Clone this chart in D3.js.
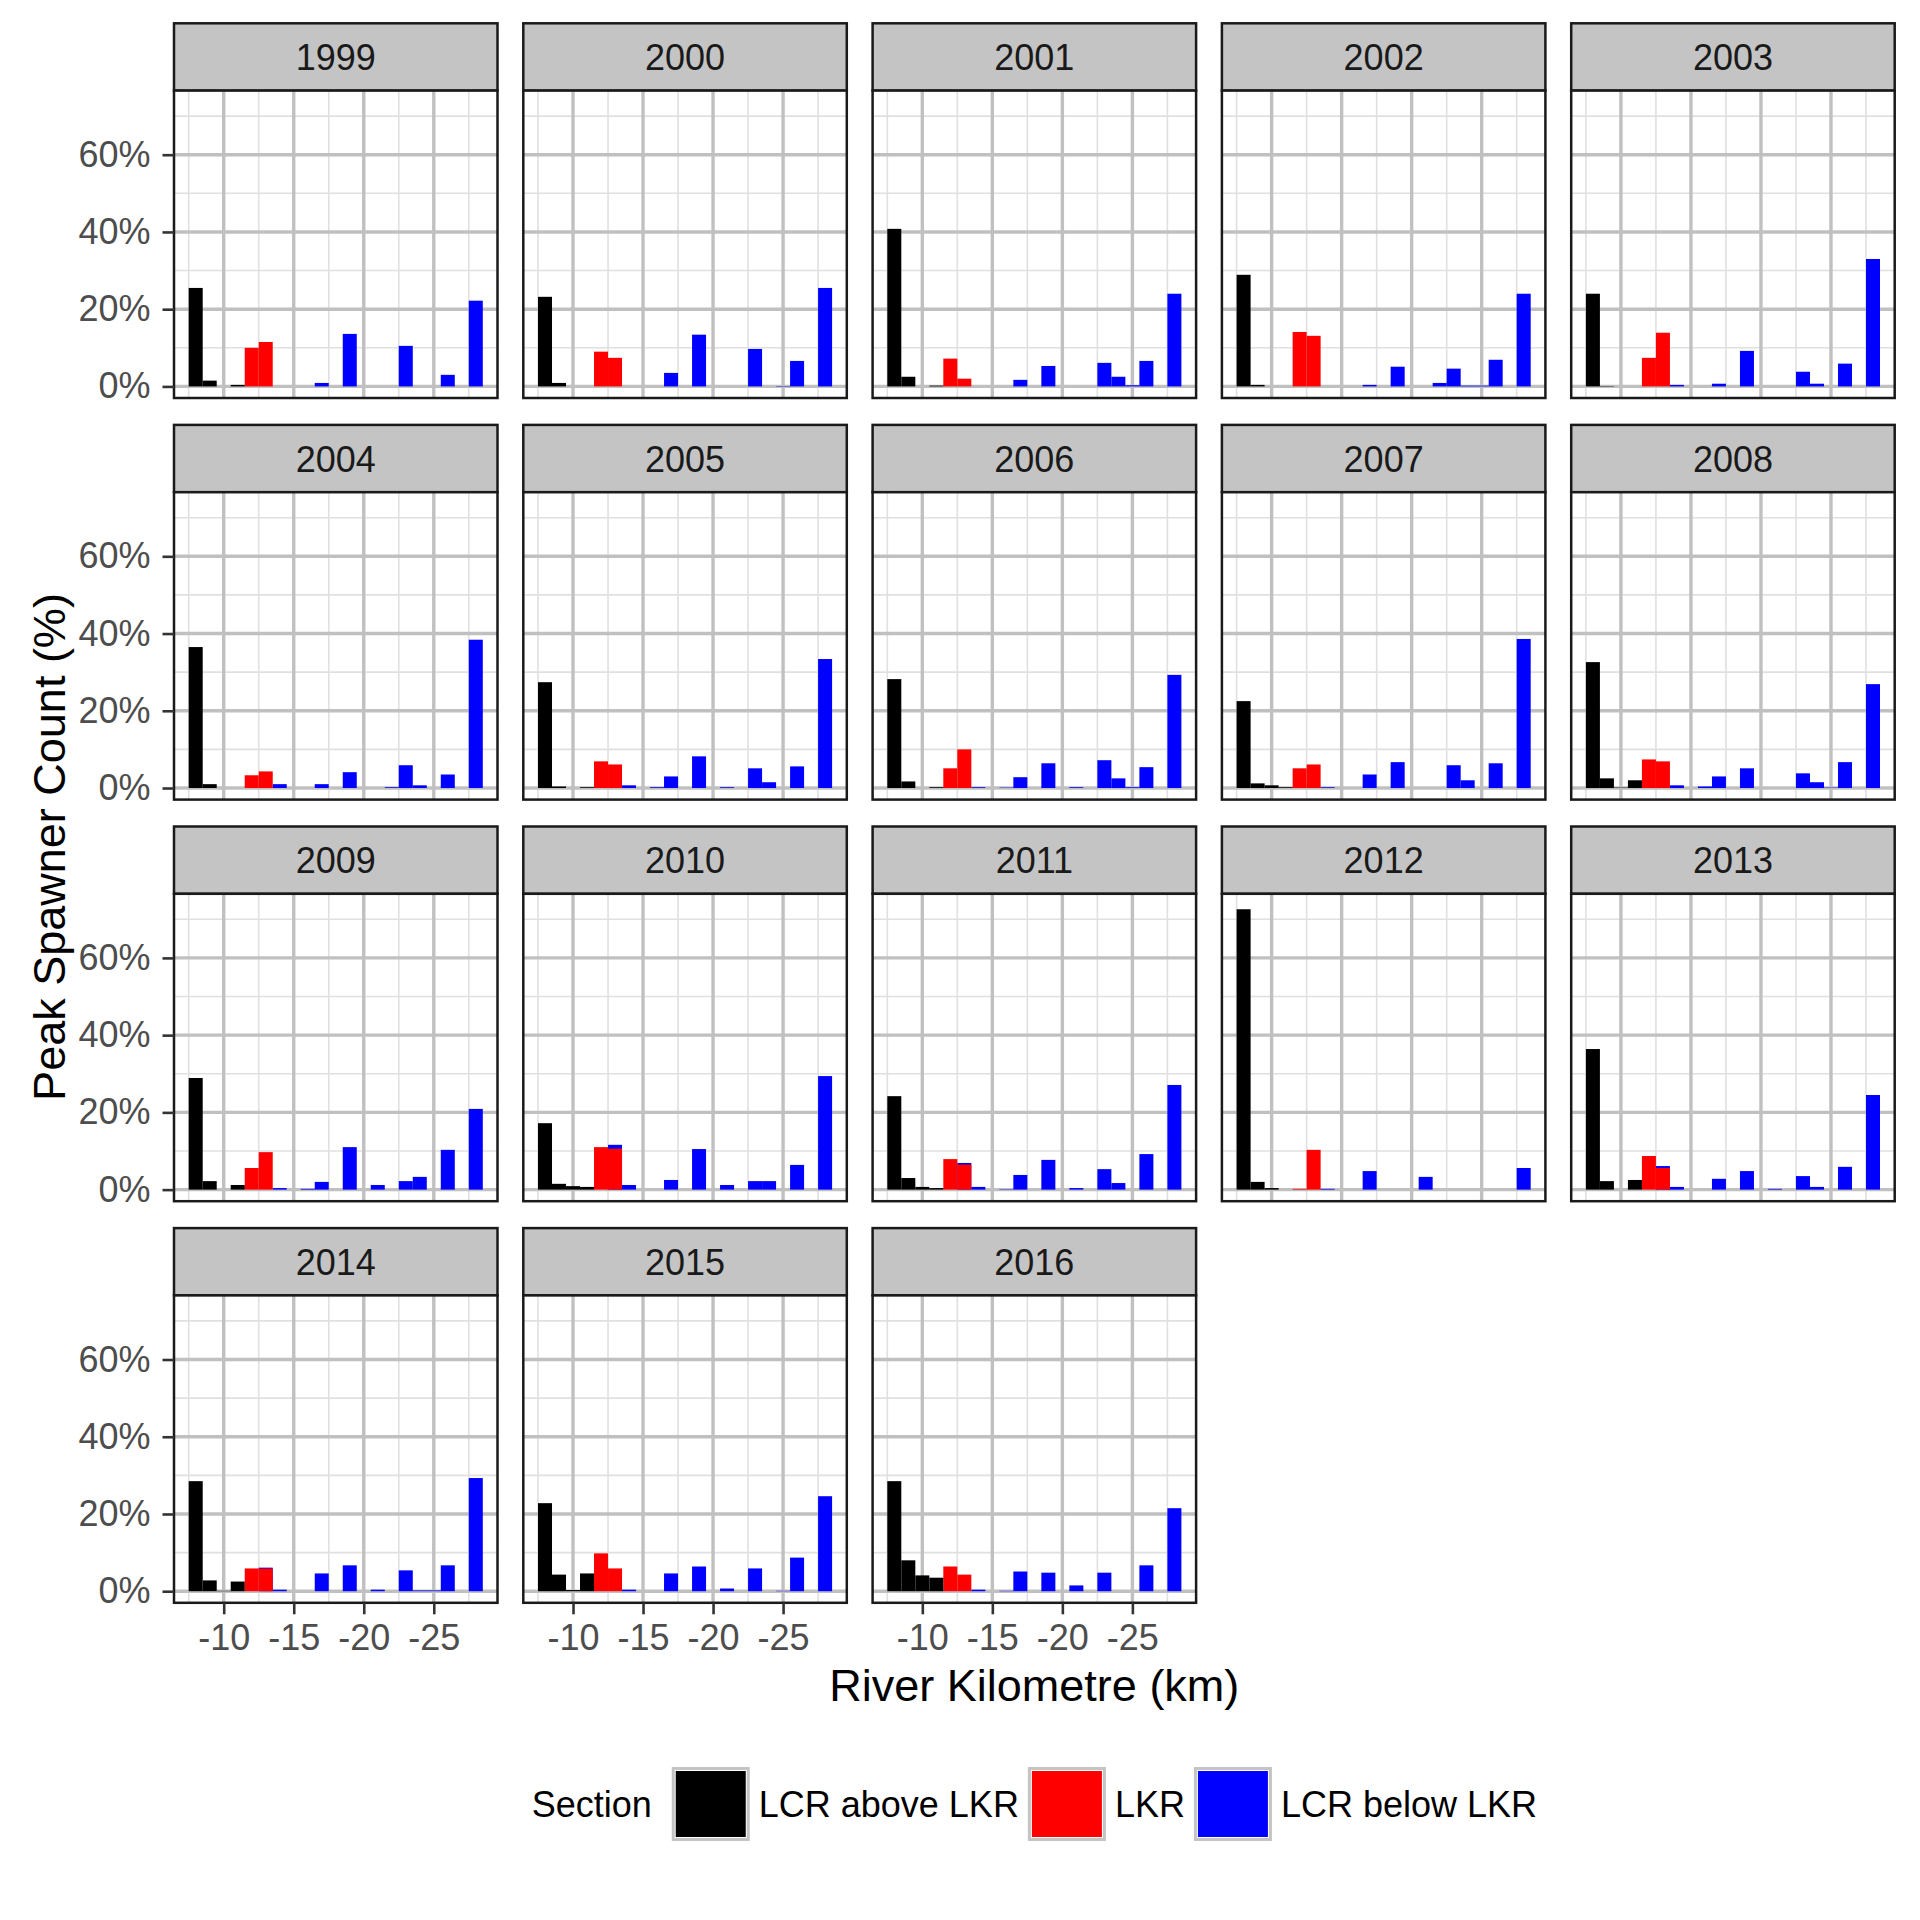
<!DOCTYPE html>
<html>
<head>
<meta charset="utf-8">
<script src="https://cdn.jsdelivr.net/npm/d3@7"></script>
<style>
  body { margin: 0; background: #fff; }
  svg text { font-family: "Liberation Sans", Arial, Helvetica, sans-serif; }
</style>
</head>
<body>
<div id="chart"></div>
<script>
// Peak spawner count (%) by river km, one panel per year

var years = [1999, 2000, 2001, 2002, 2003, 2004, 2005, 2006, 2007, 2008,
             2009, 2010, 2011, 2012, 2013, 2014, 2015, 2016]

var sections = ['LCR above LKR', 'LKR', 'LCR below LKR']
var sectionColors = ['#000000', '#ff0000', '#0000ff']

// LCR above LKR, km -8 .. -11
var aboveKm = [-8, -9, -10, -11]
var aboveVals = [
  [25.5, 1.5, null, 0.4],
  [23.2, 0.9, null, null],
  [40.8, 2.5, null, 0.2],
  [28.9, 0.4, null, null],
  [24.0, 0.1, null, null],
  [36.5, 1.0, null, null],
  [27.4, 0.4, null, 0.2],
  [28.2, 1.7, null, 0.2],
  [22.5, 1.2, 0.7, 0.2],
  [32.6, 2.5, 0.1, 2.0],
  [28.9, 2.2, null, 1.2],
  [17.2, 1.5, 0.9, 0.7],
  [24.2, 3.0, 0.7, 0.4],
  [72.6, 2.0, 0.4, null],
  [36.4, 2.2, null, 2.5],
  [28.5, 2.8, 0.1, 2.5],
  [22.8, 4.3, 0.3, 4.6],
  [28.5, 8.0, 4.1, 3.5]
]

// LKR, km -12 .. -13
var lkrKm = [-12, -13]
var lkrVals = [
  [10.0, 11.5], [9.0, 7.4], [7.2, 2.0], [14.1, 13.1], [7.4, 13.9], [3.3, 4.3],
  [6.9, 6.1], [5.1, 10.0], [5.1, 6.1], [7.4, 6.9], [5.6, 9.7], [11.0, 10.6],
  [7.9, 6.5], [0.2, 10.3], [8.7, 5.6], [5.9, 5.9], [9.8, 5.9], [6.4, 4.3]
]

// LCR below LKR, km -13 .. -28
var belowKm = [-13, -14, -15, -16, -17, -18, -19, -20, -21, -22, -23, -24, -25, -26, -27, -28]
var belowVals = [
  [null, null, null, null, 0.9, null, 13.6, null, null, null, 10.5, null, null, 3.0, null, 22.2],
  [null, null, null, null, 3.5, null, 13.4, null, null, null, 9.7, null, 0.1, 6.6, null, 25.5],
  [null, null, null, null, 1.7, null, 5.3, null, null, null, 6.1, 2.5, 0.3, 6.6, null, 24.0],
  [null, null, null, null, 0.4, null, 5.1, null, null, 0.9, 4.6, 0.2, 0.2, 6.9, null, 24.0],
  [null, 0.4, null, null, 0.7, null, 9.2, null, null, null, 3.8, 0.7, null, 5.9, null, 33.0],
  [null, 1.0, null, null, 1.0, null, 4.1, null, null, 0.2, 5.9, 0.7, null, 3.5, null, 38.4],
  [null, 0.7, null, 0.2, 3.0, null, 8.2, null, 0.2, null, 5.1, 1.5, null, 5.6, null, 33.4],
  [null, 0.2, null, 0.1, 2.8, null, 6.4, null, 0.2, null, 7.2, 2.5, 0.2, 5.4, null, 29.3],
  [null, 0.2, null, null, 3.5, null, 6.7, null, null, null, 5.9, 2.0, null, 6.4, null, 38.6],
  [null, 0.7, null, 0.4, 3.0, null, 5.1, null, null, null, 3.8, 1.5, 0.1, 6.7, null, 26.9],
  [null, 0.4, null, 0.2, 2.0, null, 11.0, null, 1.2, null, 2.2, 3.3, null, 10.3, null, 20.9],
  [11.6, 1.2, null, null, 2.5, null, 10.5, null, 1.2, null, 2.2, 2.2, null, 6.4, null, 29.4],
  [6.9, 0.7, null, 0.1, 3.8, null, 7.7, null, 0.4, null, 5.3, 1.7, null, 9.2, null, 27.1],
  [null, 0.2, null, null, 4.8, null, null, null, 3.3, null, null, null, null, null, null, 5.6],
  [6.1, 0.7, null, null, 2.8, null, 4.8, null, 0.2, null, 3.5, 0.7, null, 5.9, null, 24.5],
  [6.1, 0.4, null, null, 4.6, null, 6.7, null, 0.4, null, 5.4, 0.2, 0.2, 6.7, null, 29.3],
  [null, 0.4, null, null, 4.6, null, 6.4, null, 0.7, null, 5.9, null, 0.1, 8.7, null, 24.6],
  [null, 0.4, null, 0.1, 5.1, null, 4.8, null, 1.5, null, 4.8, null, null, 6.7, null, 21.5]
]

var xTicks = [-10, -15, -20, -25]
var xMinor = [-7.5, -12.5, -17.5, -22.5, -27.5]
var yTicks = [0, 20, 40, 60]
var yMinor = [10, 30, 50, 70]

// layout
var ncol = 5
  , left0 = 174, panelW = 323.5, colStep = 349.3
  , top0 = 23.3, stripH = 67.3, panelH = 307.4, rowStep = 401.6
  , nrow = Math.ceil(years.length / ncol)
  , tickLen = 11.5

var svg = d3.select('#chart')
  .append('svg')
    .attr('width', 1920)
    .attr('height', 1920)
    .style('background', '#fff')

// scales shared by all panels
var kmAll = aboveKm.concat(lkrKm, belowKm)
  , kmHi = d3.max(kmAll) + 0.5
  , kmLo = d3.min(kmAll) - 0.5
  , pad = 0.05 * (kmHi - kmLo)

var x = d3.scaleLinear()
  .domain([kmHi + pad, kmLo - pad])
  .range([0, panelW])

var y = d3.scaleLinear()
  .domain([-3, 76.6])
  .range([panelH, 0])

function barsFor(i) {
  var out = []
  belowKm.forEach(function(km, j) {
    if (belowVals[i][j] != null) out.push({ km: km, v: belowVals[i][j], s: 2 })
  })
  lkrKm.forEach(function(km, j) {
    if (lkrVals[i][j] != null) out.push({ km: km, v: lkrVals[i][j], s: 1 })
  })
  aboveKm.forEach(function(km, j) {
    if (aboveVals[i][j] != null) out.push({ km: km, v: aboveVals[i][j], s: 0 })
  })
  return out
}

years.forEach(function(year, i) {
  var col = i % ncol
    , row = Math.floor(i / ncol)
    , px = left0 + col * colStep
    , sy = top0 + row * rowStep
    , py = sy + stripH
    , lastInCol = (i + ncol >= years.length) && row === nrow - 1

  // strip
  var strip = svg.append('g').attr('transform', 'translate(' + px + ',' + sy + ')')
  strip.append('rect')
    .attr('width', panelW)
    .attr('height', stripH)
    .attr('fill', '#c4c4c4')
    .attr('stroke', '#1a1a1a')
    .attr('stroke-width', 2.5)
  strip.append('text')
    .attr('x', panelW / 2)
    .attr('y', stripH / 2)
    .attr('dy', '0.36em')
    .attr('text-anchor', 'middle')
    .attr('font-size', 36)
    .attr('fill', '#1a1a1a')
    .text(year)

  var g = svg.append('g').attr('transform', 'translate(' + px + ',' + py + ')')

  g.append('rect')
    .attr('width', panelW)
    .attr('height', panelH)
    .attr('fill', '#fff')

  // grid
  g.selectAll('.vminor').data(xMinor).enter().append('line')
    .attr('x1', x).attr('x2', x).attr('y1', 0).attr('y2', panelH)
    .attr('stroke', '#e0e0e0').attr('stroke-width', 1.6)
  g.selectAll('.hminor').data(yMinor).enter().append('line')
    .attr('y1', y).attr('y2', y).attr('x1', 0).attr('x2', panelW)
    .attr('stroke', '#e0e0e0').attr('stroke-width', 1.6)
  g.selectAll('.vmajor').data(xTicks).enter().append('line')
    .attr('x1', x).attr('x2', x).attr('y1', 0).attr('y2', panelH)
    .attr('stroke', '#c0c0c0').attr('stroke-width', 3.4)
  g.selectAll('.hmajor').data(yTicks).enter().append('line')
    .attr('y1', y).attr('y2', y).attr('x1', 0).attr('x2', panelW)
    .attr('stroke', '#c0c0c0').attr('stroke-width', 3.4)

  // bars
  g.selectAll('.bar').data(barsFor(i)).enter().append('rect')
    .attr('x', function(d) { return x(d.km + 0.5) })
    .attr('width', function(d) { return x(d.km - 0.5) - x(d.km + 0.5) })
    .attr('y', function(d) { return y(d.v) })
    .attr('height', function(d) { return y(0) - y(d.v) })
    .attr('fill', function(d) { return sectionColors[d.s] })

  g.append('rect')
    .attr('width', panelW)
    .attr('height', panelH)
    .attr('fill', 'none')
    .attr('stroke', '#1a1a1a')
    .attr('stroke-width', 2.5)

  // axes
  if (col === 0) {
    var ya = g.append('g').call(d3.axisLeft(y)
      .tickValues(yTicks)
      .tickFormat(function(d) { return d + '%' })
      .tickSize(tickLen)
      .tickPadding(12))
    styleAxis(ya)
  }
  if (lastInCol) {
    var xa = g.append('g')
      .attr('transform', 'translate(0,' + panelH + ')')
      .call(d3.axisBottom(x)
        .tickValues(xTicks)
        .tickFormat(function(d) { return String(d) })
        .tickSize(tickLen)
        .tickPadding(10))
    styleAxis(xa)
  }
})

function styleAxis(a) {
  a.select('.domain').remove()
  a.selectAll('.tick line').attr('stroke', '#333').attr('stroke-width', 2.6)
  a.selectAll('.tick text')
    .attr('font-size', 36)
    .attr('fill', '#4d4d4d')
    .style('font-family', '"Liberation Sans", Arial, sans-serif')
}

// axis titles
var areaMid = left0 + ((ncol - 1) * colStep + panelW) / 2

svg.append('text')
  .attr('x', areaMid)
  .attr('y', 1685)
  .attr('dy', '0.35em')
  .attr('text-anchor', 'middle')
  .attr('font-size', 45)
  .attr('fill', '#000')
  .text('River Kilometre (km)')

svg.append('text')
  .attr('transform', 'translate(49,847) rotate(-90)')
  .attr('dy', '0.35em')
  .attr('text-anchor', 'middle')
  .attr('font-size', 45)
  .attr('fill', '#000')
  .text('Peak Spawner Count (%)')

// legend
var legend = svg.append('g')
  , keyW = 78, keyH = 74, legY = 1804
  , cx = 0

var title = legend.append('text')
  .attr('x', 0).attr('y', legY).attr('dy', '0.35em')
  .attr('font-size', 36).attr('fill', '#000')
  .text('Section')
cx = title.node().getComputedTextLength() + 20

sections.forEach(function(name, k) {
  var kg = legend.append('g').attr('transform', 'translate(' + cx + ',' + (legY - keyH / 2) + ')')
  kg.append('rect').attr('width', keyW).attr('height', keyH).attr('fill', '#c4c4c4')
  kg.append('rect').attr('x', 3).attr('y', 3).attr('width', keyW - 6).attr('height', keyH - 6).attr('fill', '#fff')
  kg.append('rect').attr('x', 4).attr('y', 4).attr('width', keyW - 8).attr('height', keyH - 8)
    .attr('fill', sectionColors[k])
  cx += keyW + 9
  var t = legend.append('text')
    .attr('x', cx).attr('y', legY).attr('dy', '0.35em')
    .attr('font-size', 36).attr('fill', '#000')
    .text(name)
  cx += t.node().getComputedTextLength() + 9
})

legend.attr('transform', 'translate(' + (areaMid - (cx - 9) / 2) + ',0)')
</script>
</body>
</html>
